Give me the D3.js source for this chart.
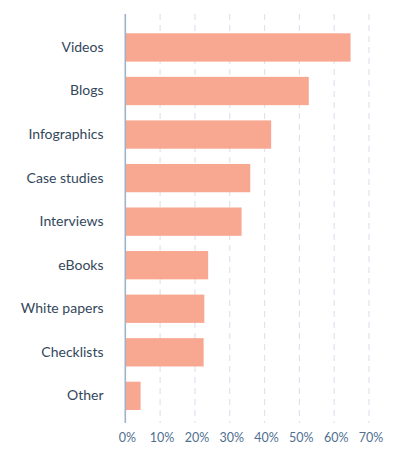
<!DOCTYPE html>
<html><head><meta charset="utf-8">
<script src="https://cdn.jsdelivr.net/npm/d3@7"></script>
<style>html,body{margin:0;padding:0;background:#fff;}svg{display:block;}</style>
</head><body>
<svg id="chart" width="395" height="452"></svg>
<script>
const categories = ["Videos","Blogs","Infographics","Case studies","Interviews","eBooks","White papers","Checklists","Other"];
const values = [64.7, 52.7, 41.9, 35.9, 33.4, 23.8, 22.7, 22.5, 4.4];
const tickValues = [0,10,20,30,40,50,60,70];

const svg = d3.select("#chart");
const x = d3.scaleLinear().domain([0,70]).range([125.3,369]);
const y = d3.scaleBand().domain(categories).range([33.3,410]).paddingInner(0.35).paddingOuter(0);

// gridlines
svg.append("g").selectAll("line").data(tickValues.slice(1)).join("line")
  .attr("x1",d=>x(d)).attr("x2",d=>x(d)).attr("y1",14).attr("y2",423)
  .attr("stroke","#dfe3ee").attr("stroke-width",1.2).attr("stroke-dasharray","6,5");

// bars
svg.append("g").selectAll("rect").data(values).join("rect")
  .attr("x",x(0)).attr("y",(d,i)=>y(categories[i]))
  .attr("width",d=>x(d)-x(0)).attr("height",y.bandwidth())
  .attr("fill","#f8a791");

// axis line
svg.append("line").attr("x1",x(0)).attr("x2",x(0)).attr("y1",14).attr("y2",423)
  .attr("stroke","#9fb3c8").attr("stroke-width",1.6);

// category labels
const yAxis = d3.axisLeft(y).tickSize(0).tickPadding(0);
const gy = svg.append("g").attr("transform","translate(103.5,0)").call(yAxis);
gy.select(".domain").remove();
gy.selectAll("text").attr("fill","#33475b").style("font-family","Lato, 'Open Sans', sans-serif").style("font-size","14px");

// x tick labels
const xAxis = d3.axisBottom(x).tickValues(tickValues).tickFormat(d=>d+"%").tickSize(0).tickPadding(0);
const gx = svg.append("g").attr("transform","translate(1.5,433)").call(xAxis);
gx.select(".domain").remove();
gx.selectAll("text").attr("fill","#516f90").style("font-family","Lato, 'Open Sans', sans-serif").style("font-size","12.5px");
</script>
</body></html>
